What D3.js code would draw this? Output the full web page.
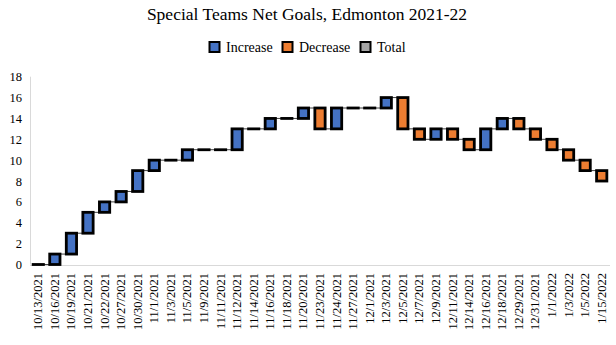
<!DOCTYPE html>
<html>
<head>
<meta charset="utf-8">
<script src="https://cdn.jsdelivr.net/npm/d3@7"></script>
<style>
  html, body { margin: 0; padding: 0; background: #fff; }
  svg { display: block; }
</style>
</head>
<body>
<svg id="chart" width="616" height="345"></svg>
<script>
const categories = ["10/13/2021","10/16/2021","10/19/2021","10/21/2021","10/22/2021","10/27/2021","10/30/2021","11/1/2021","11/3/2021","11/5/2021","11/9/2021","11/11/2021","11/12/2021","11/14/2021","11/16/2021","11/18/2021","11/20/2021","11/23/2021","11/24/2021","11/27/2021","12/1/2021","12/3/2021","12/5/2021","12/7/2021","12/9/2021","12/11/2021","12/14/2021","12/16/2021","12/18/2021","12/29/2021","12/31/2021","1/1/2022","1/3/2022","1/5/2022","1/15/2022"];
const changes = [0,1,2,2,1,1,2,1,0,1,0,0,2,0,1,0,1,-2,2,0,0,1,-3,-1,1,-1,-1,2,1,-1,-1,-1,-1,-1,-1];
const yTicks = [0,2,4,6,8,10,12,14,16,18];
const legendLabels = ["Increase","Decrease","Total"];
const legendColors = ["#4472C4","#ED7D31","#A5A5A5"];
const titleText = "Special Teams Net Goals, Edmonton 2021-22";

const serif = "'Liberation Serif', 'DejaVu Serif', serif";
const svg = d3.select("#chart");

// cumulative
let run = 0;
const bars = categories.map((c, i) => {
  const start = run;
  run += changes[i];
  return { cat: c, start, end: run, change: changes[i] };
});

const x = d3.scaleBand().domain(categories).range([30, 610]).paddingInner(0.38).paddingOuter(0.19);
const y = d3.scaleLinear().domain([0, 18]).range([264.5, 76.7]);

// title
svg.append("text").attr("x", 307).attr("y", 19.5).attr("text-anchor", "middle")
  .style("font-family", serif).style("font-size", "17.5px").attr("fill", "#000")
  .text(titleText);

// legend
const legendX = [209.5, 282.5, 360.5];
legendLabels.forEach((l, i) => {
  svg.append("rect").attr("x", legendX[i]).attr("y", 42).attr("width", 10).attr("height", 10)
    .attr("fill", legendColors[i]).attr("stroke", "#000").attr("stroke-width", 2);
  svg.append("text").attr("x", legendX[i] + 16.5).attr("y", 51.5)
    .style("font-family", serif).style("font-size", "14px").attr("fill", "#000").text(l);
});

// axes lines
svg.append("line").attr("x1", 30.5).attr("x2", 30.5).attr("y1", y(18)).attr("y2", y(0))
  .attr("stroke", "#d9d9d9").attr("stroke-width", 1);
svg.append("line").attr("x1", 30).attr("x2", 610).attr("y1", 265.5).attr("y2", 265.5)
  .attr("stroke", "#d9d9d9").attr("stroke-width", 1);

// y tick labels
const yAxis = d3.axisLeft(y).tickValues(yTicks).tickSize(0).tickPadding(8);
const gy = svg.append("g").attr("transform", "translate(30,0)").call(yAxis);
gy.select(".domain").remove();
gy.selectAll("text").style("font-family", serif).style("font-size", "12.5px").attr("fill", "#000");

// x tick labels
const xAxis = d3.axisBottom(x).tickSize(0).tickPadding(0);
const gx = svg.append("g").attr("transform", "translate(0,265)").call(xAxis);
gx.select(".domain").remove();
gx.selectAll("text")
  .style("font-family", serif).style("font-size", "12.5px").attr("fill", "#000")
  .attr("text-anchor", "end").attr("dy", null).attr("y", 0)
  .attr("transform", "translate(4,8) rotate(-90)");

// connectors
const bw = x.bandwidth();
svg.append("g").selectAll("line").data(bars.slice(0, -1)).join("line")
  .attr("x1", (d) => x(d.cat) + bw)
  .attr("x2", (d, i) => x(categories[i + 1]))
  .attr("y1", (d) => y(d.end)).attr("y2", (d) => y(d.end))
  .attr("stroke", "#404040").attr("stroke-width", 1);

// bars
svg.append("g").selectAll("rect").data(bars).join("rect")
  .attr("x", (d) => x(d.cat))
  .attr("width", bw)
  .attr("y", (d) => y(Math.max(d.start, d.end)))
  .attr("height", (d) => Math.max(0.01, Math.abs(y(d.start) - y(d.end))))
  .attr("fill", (d) => d.change > 0 ? legendColors[0] : d.change < 0 ? legendColors[1] : legendColors[2])
  .attr("stroke", "#000").attr("stroke-width", 2.8);
</script>
</body>
</html>
